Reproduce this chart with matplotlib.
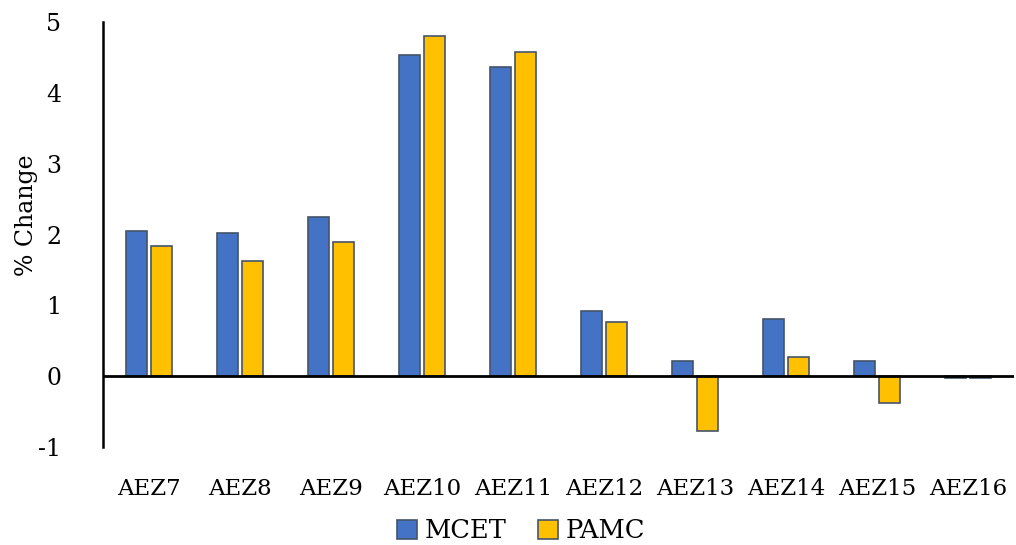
import numpy as np
import matplotlib
matplotlib.use("Agg")
import matplotlib.pyplot as plt

# data
zones = ["AEZ7", "AEZ8", "AEZ9", "AEZ10", "AEZ11",
         "AEZ12", "AEZ13", "AEZ14", "AEZ15", "AEZ16"]
mcet = [2.05, 2.02, 2.25, 4.53, 4.36, 0.92, 0.21, 0.81, 0.22, -0.02]
pamc = [1.84, 1.63, 1.89, 4.80, 4.57, 0.76, -0.78, 0.27, -0.38, -0.03]
yticks = [-1, 0, 1, 2, 3, 4, 5]

plt.rcParams["font.family"] = ["DejaVu Serif"]

fig = plt.figure(figsize=(10.16, 5.45), dpi=100)
ax = fig.add_axes([103 / 1016, 1 - 447 / 545, 911 / 1016, 425 / 545])

x = np.arange(len(zones))
w = 0.23
off = 0.137
edge = "#44546A"
ax.bar(x - off, mcet, w, color="#4472C4", edgecolor=edge, linewidth=1.2, label="MCET")
ax.bar(x + off, pamc, w, color="#FFC000", edgecolor=edge, linewidth=1.2, label="PAMC")

ax.axhline(0, color="black", linewidth=2)
ax.set_xlim(-0.5, len(zones) - 0.5)
ax.set_ylim(-1, 5)
ax.set_yticks(yticks)
ax.set_yticklabels([str(t) for t in yticks], fontsize=17)
ax.set_xticks(x)
ax.set_xticklabels(zones, fontsize=16.5)
ax.tick_params(axis="both", length=0)
ax.tick_params(axis="y", pad=30)
ax.tick_params(axis="x", pad=22)

for s in ["top", "right", "bottom"]:
    ax.spines[s].set_visible(False)
ax.spines["left"].set_linewidth(1.8)

# y label placed in figure coords so it is not clipped
fig.text(27 / 1016, 1 - 215 / 545, "% Change", rotation=90, fontsize=17,
         ha="center", va="center")

fig.legend(loc="center", bbox_to_anchor=(0.513, 1 - 531 / 545), ncol=2,
           frameon=False, fontsize=18.5, handlelength=0.75, handleheight=0.75,
           handletextpad=0.3, columnspacing=1.25, borderpad=0.1)

fig.savefig("out.png", dpi=100)
